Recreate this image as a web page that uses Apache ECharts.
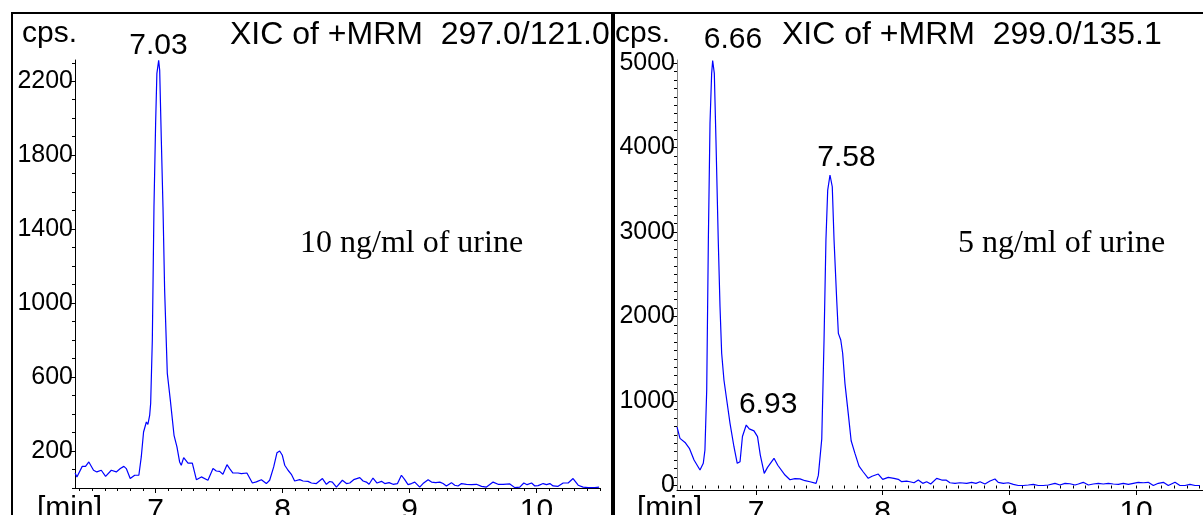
<!DOCTYPE html>
<html><head><meta charset="utf-8">
<script src="https://cdn.jsdelivr.net/npm/echarts@6/dist/echarts.min.js"></script>
<style>html,body{margin:0;padding:0;background:#fff}#c{width:1203px;height:515px}</style>
</head><body><div id="c"></div><script>
// ---- data ----
const leftTime = [6.366,6.380,6.422,6.448,6.474,6.511,6.537,6.572,6.606,6.651,6.690,6.722,6.750,6.769,6.800,6.835,6.868,6.887,6.905,6.927,6.939,6.953,6.961,6.974,6.987,7.000,7.010,7.024,7.032,7.045,7.058,7.071,7.092,7.116,7.145,7.168,7.189,7.202,7.221,7.236,7.255,7.289,7.321,7.360,7.412,7.452,7.478,7.504,7.530,7.562,7.583,7.609,7.649,7.675,7.688,7.719,7.762,7.793,7.833,7.872,7.898,7.930,7.956,7.977,7.998,8.017,8.043,8.069,8.095,8.135,8.161,8.200,8.227,8.266,8.314,8.345,8.371,8.392,8.424,8.471,8.503,8.529,8.560,8.608,8.634,8.660,8.681,8.712,8.744,8.779,8.805,8.839,8.870,8.905,8.936,8.962,8.988,9.015,9.041,9.080,9.106,9.146,9.173,9.206,9.238,9.264,9.290,9.330,9.356,9.382,9.409,9.448,9.488,9.527,9.567,9.606,9.658,9.697,9.737,9.790,9.829,9.868,9.900,9.926,9.961,9.987,10.013,10.052,10.079,10.105,10.131,10.170,10.210,10.249,10.288,10.328,10.367,10.406,10.459,10.493];
const leftCps = [81,60,117,117,141,96,87,96,63,96,87,105,117,105,51,69,69,168,303,357,344,393,458,799,1520,1972,2243,2313,2259,1880,1520,1069,620,474,285,222,141,123,164,164,135,135,45,60,42,105,92,90,74,126,105,81,81,78,69,81,27,33,45,24,42,114,191,200,177,123,96,74,38,45,38,36,27,24,51,20,35,32,5,42,24,27,45,56,38,32,20,54,27,36,24,29,20,24,69,45,18,24,32,5,24,45,32,29,32,24,11,29,15,11,24,20,18,20,9,5,32,20,20,22,2,5,27,18,27,11,13,24,18,24,11,9,27,27,51,15,5,2,2,5];
const rightTime = [6.377,6.400,6.440,6.474,6.511,6.558,6.584,6.597,6.611,6.624,6.637,6.650,6.658,6.671,6.684,6.702,6.716,6.729,6.747,6.769,6.795,6.826,6.852,6.874,6.893,6.923,6.947,6.984,7.012,7.034,7.065,7.091,7.142,7.172,7.229,7.268,7.308,7.347,7.387,7.426,7.474,7.492,7.519,7.537,7.552,7.566,7.584,7.602,7.616,7.637,7.650,7.669,7.684,7.702,7.728,7.751,7.781,7.813,7.847,7.886,7.916,7.965,8.000,8.044,8.089,8.123,8.150,8.189,8.215,8.247,8.281,8.316,8.347,8.379,8.426,8.466,8.500,8.531,8.571,8.610,8.663,8.702,8.736,8.768,8.807,8.847,8.886,8.912,8.952,8.991,9.031,9.070,9.110,9.149,9.189,9.228,9.268,9.307,9.360,9.399,9.439,9.478,9.518,9.544,9.583,9.623,9.662,9.702,9.741,9.781,9.820,9.860,9.899,9.939,9.978,10.017,10.057,10.096,10.136,10.175,10.215,10.254,10.307,10.346,10.386,10.425,10.465,10.504];
const rightCps = [690,558,510,440,302,183,263,420,1130,2905,4286,4878,5030,4878,4089,2905,2116,1565,1249,1012,736,459,263,282,580,716,670,647,578,360,144,215,322,240,124,68,82,78,57,45,26,120,550,1722,2905,3497,3675,3536,2905,2195,1801,1722,1565,1209,854,530,380,230,160,85,110,136,73,97,85,73,45,53,45,33,65,26,45,18,85,65,65,33,26,33,26,38,26,45,18,53,77,38,26,33,14,0,0,6,14,0,0,6,26,6,26,21,6,18,38,6,18,26,18,26,18,14,26,14,26,38,33,38,0,26,38,0,38,0,0,14,0,0];

const xTickLabels = [7, 8, 9, 10];
const leftYTickLabels = [200, 600, 1000, 1400, 1800, 2200];
const rightYTickLabels = [0, 1000, 2000, 3000, 4000, 5000];

const leftPeakTimes = [7.03];
const leftPeakCps = [2313];
const leftPeakText = ['7.03'];
const rightPeakTimes = [6.66, 6.93, 7.58];
const rightPeakCps = [5030, 716, 3675];
const rightPeakText = ['6.66', '6.93', '7.58'];

const leftTitle = 'XIC of +MRM  297.0/121.0';
const rightTitle = 'XIC of +MRM  299.0/135.1';
const leftNote = '10 ng/ml of urine';
const rightNote = '5 ng/ml of urine';
const yUnit = 'cps.';
const xUnit = '[min]';

// ---- styling / layout (not data) ----
const leftPeakOffsets = [[-1, 0]];
const rightPeakOffsets = [[20, -6], [21, -5], [17, -2]];

function range(a, b, step) { const r = []; for (let v = a; v <= b + 1e-9; v += step) r.push(+v.toFixed(4)); return r; }
const xMinorL = range(6.4, 10.5, 0.1);
const xMinorR = range(6.4, 10.5, 0.1);
const yMinorL = range(0, 2300, 100);
const yMinorR = range(0, 5000, 100);

const SANS = '"Liberation Sans", Arial, sans-serif';
const SERIF = '"Liberation Serif", "Times New Roman", serif';

const chart = echarts.init(document.getElementById('c'), null, {renderer: 'canvas'});

function xAxes(grid, min, max, minor) {
  return [
    {type: 'value', gridIndex: grid, min, max, position: 'bottom',
     axisLine: {show: true, onZero: false, lineStyle: {color: '#000', width: 1}},
     axisTick: {show: true, customValues: xTickLabels, length: 5, lineStyle: {color: '#000', width: 1}},
     axisLabel: {show: true, customValues: xTickLabels, formatter: v => String(v), fontSize: 30, fontFamily: SANS, color: '#000', margin: 8},
     splitLine: {show: false}},
    {type: 'value', gridIndex: grid, min, max, position: 'bottom', offset: 0,
     axisLine: {show: false},
     axisTick: {show: true, customValues: minor, length: 3, lineStyle: {color: '#000', width: 1}},
     axisLabel: {show: false}, splitLine: {show: false}}
  ];
}
function yAxes(grid, min, max, labels, minor, lineColor) {
  return [
    {type: 'value', gridIndex: grid, min, max, position: 'left',
     axisLine: {show: true, onZero: false, lineStyle: {color: lineColor, width: 1}},
     axisTick: {show: true, customValues: labels, length: 5, lineStyle: {color: '#000', width: 1}},
     axisLabel: {show: true, customValues: labels, formatter: v => String(v), fontSize: 25, fontFamily: SANS, color: '#000', margin: 2},
     splitLine: {show: false}},
    {type: 'value', gridIndex: grid, min, max, position: 'left', offset: 0,
     axisLine: {show: false},
     axisTick: {show: true, customValues: minor, length: 3, lineStyle: {color: '#000', width: 1}},
     axisLabel: {show: false}, splitLine: {show: false}}
  ];
}
function peakPoints(times, cps, texts, offsets) {
  return times.map((t, i) => ({coord: [t, cps[i]], name: texts[i], label: {offset: offsets[i]}}));
}

const option = {
  animation: false,
  backgroundColor: '#fff',
  grid: [
    {left: 75, top: 60, width: 525, height: 428, outerBoundsMode: 'none', containLabel: false},
    {left: 677, top: 60, width: 526, height: 430, outerBoundsMode: 'none', containLabel: false}
  ],
  xAxis: [...xAxes(0, 6.365, 10.5, xMinorL), ...xAxes(1, 6.3765, 10.528, xMinorR)],
  yAxis: [...yAxes(0, 0, 2315, leftYTickLabels, yMinorL, '#000'), ...yAxes(1, -53, 5036, rightYTickLabels, yMinorR, '#888')],
  series: [
    {type: 'line', xAxisIndex: 0, yAxisIndex: 0, showSymbol: false, symbol: 'none',
     data: leftTime.map((t, i) => [t, leftCps[i]]),
     lineStyle: {color: '#0000ff', width: 1.2},
     markPoint: {symbol: 'circle', symbolSize: 0, silent: true,
       label: {show: true, position: 'top', distance: 0, formatter: '{b}', fontSize: 30, fontFamily: SANS, color: '#000'},
       data: peakPoints(leftPeakTimes, leftPeakCps, leftPeakText, leftPeakOffsets)}},
    {type: 'line', xAxisIndex: 2, yAxisIndex: 2, showSymbol: false, symbol: 'none',
     data: rightTime.map((t, i) => [t, rightCps[i]]),
     lineStyle: {color: '#0000ff', width: 1.2},
     markPoint: {symbol: 'circle', symbolSize: 0, silent: true,
       label: {show: true, position: 'top', distance: 0, formatter: '{b}', fontSize: 30, fontFamily: SANS, color: '#000'},
       data: peakPoints(rightPeakTimes, rightPeakCps, rightPeakText, rightPeakOffsets)}}
  ],
  graphic: [
    {type: 'rect', shape: {x: 12, y: 13, width: 600, height: 530}, style: {fill: 'none', stroke: '#000', lineWidth: 2}, z: 10},
    {type: 'rect', shape: {x: 614, y: 13, width: 600, height: 530}, style: {fill: 'none', stroke: '#000', lineWidth: 2}, z: 10},
    {type: 'text', x: 22, y: 19, style: {text: yUnit, font: '30px ' + SANS, fill: '#000', textAlign: 'left', textVerticalAlign: 'top'}},
    {type: 'text', x: 615, y: 19, style: {text: yUnit, font: '30px ' + SANS, fill: '#000', textAlign: 'left', textVerticalAlign: 'top'}},
    {type: 'text', x: 230, y: 19, style: {text: leftTitle, font: '32px ' + SANS, fill: '#000', textAlign: 'left', textVerticalAlign: 'top'}},
    {type: 'text', x: 782, y: 19, style: {text: rightTitle, font: '32px ' + SANS, fill: '#000', textAlign: 'left', textVerticalAlign: 'top'}},
    {type: 'text', x: 300, y: 228, style: {text: leftNote, font: '32px ' + SERIF, fill: '#000', textAlign: 'left', textVerticalAlign: 'top'}},
    {type: 'text', x: 958, y: 228, style: {text: rightNote, font: '32px ' + SERIF, fill: '#000', textAlign: 'left', textVerticalAlign: 'top'}},
    {type: 'text', x: 37, y: 494, style: {text: xUnit, font: '30px ' + SANS, fill: '#000', textAlign: 'left', textVerticalAlign: 'top'}},
    {type: 'text', x: 637, y: 494, style: {text: xUnit, font: '30px ' + SANS, fill: '#000', textAlign: 'left', textVerticalAlign: 'top'}}
  ]
};
chart.setOption(option);
</script></body></html>
